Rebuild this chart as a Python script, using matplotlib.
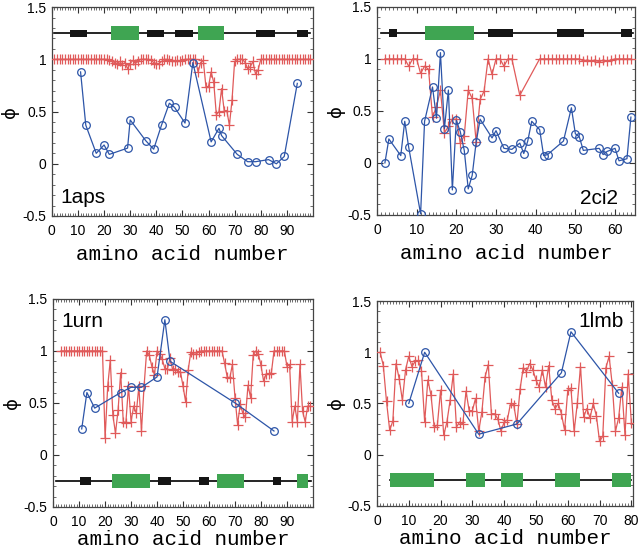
import numpy as np
import matplotlib
matplotlib.use("Agg")
import matplotlib.pyplot as plt
from matplotlib.ticker import MultipleLocator

# ---------------------------------------------------------------
# phi values per protein: blue = experiment (circles),
# red = simulation (crosses), read off the figure
# ---------------------------------------------------------------

# 1aps
APS_EXP_RES = [11, 13, 17, 20, 22, 29, 30, 36, 39, 42, 45, 47, 51, 54,
               61, 64, 65, 71, 75, 78, 83, 86, 89, 94]
APS_EXP_PHI = [0.88, 0.37, 0.10, 0.18, 0.09, 0.15, 0.42, 0.22, 0.14, 0.37,
               0.58, 0.54, 0.39, 0.97, 0.21, 0.34, 0.27, 0.09, 0.02, 0.02,
               0.04, 0.00, 0.07, 0.77]
APS_SIM_RES = np.arange(1, 100)
APS_SIM_PHI = [1.0, 1.0, 1.0, 1.0, 1.0, 1.0, 1.0, 1.0, 1.0, 1.0,
               1.0, 1.0, 1.0, 1.0, 1.0, 1.0, 1.0, 1.0, 1.0, 1.0,
               1.0, 0.99, 0.98, 0.97, 0.96, 0.98, 0.95, 0.97, 0.91, 0.96,
               0.99, 0.96, 0.98, 1.0, 1.0, 1.0, 1.0, 0.99, 0.97, 0.96,
               0.96, 0.98, 1.0, 1.0, 0.99, 0.98, 0.98, 0.99, 0.98, 0.99,
               1.0, 1.0, 1.0, 1.0, 1.0, 0.88, 0.97, 0.99, 0.74, 0.74,
               0.88, 0.78, 0.47, 0.50, 0.72, 0.51, 0.51, 0.37, 0.61, 0.98,
               1.0, 1.0, 1.0, 0.97, 0.91, 0.93, 0.98, 0.86, 0.90, 1.0,
               1.0, 1.0, 1.0, 1.0, 1.0, 1.0, 1.0, 1.0, 1.0, 1.0,
               1.0, 1.0, 1.0, 1.0, 1.0, 1.0, 1.0, 1.0, 1.0]
APS_CHAIN = (1, 99)
APS_STRANDS = [(7, 13.5), (36.5, 43), (47, 54), (78, 85.5), (94, 98)]
APS_HELICES = [(22.5, 33.5), (56, 66)]

# 2ci2
CI2_EXP_RES = [2, 3, 6, 7, 8, 11, 12, 14, 15, 16, 17, 18, 19, 20, 21, 22,
               23, 24, 25, 26, 29, 30, 32, 34, 36, 37, 38, 39, 41, 42, 43,
               47, 49, 50, 51, 52, 56, 57, 58, 60, 61, 63, 64]
CI2_EXP_PHI = [0.0, 0.23, 0.07, 0.40, 0.15, -0.49, 0.40, 0.73, 0.43, 1.06,
               0.33, 0.70, -0.26, 0.41, 0.30, 0.12, -0.25, -0.12, 0.20, 0.42,
               0.24, 0.31, 0.14, 0.13, 0.19, 0.09, 0.21, 0.40, 0.32, 0.07,
               0.08, 0.21, 0.53, 0.28, 0.25, 0.12, 0.14, 0.08, 0.11, 0.14,
               0.02, 0.04, 0.44]
CI2_SIM_RES = [2, 3, 4, 5, 6, 7, 8, 9, 10, 11, 12, 13, 14, 15, 16, 17, 18,
               19, 20, 21, 22, 23, 24, 25, 26, 27, 28, 29, 30, 31, 32, 33,
               34, 36, 41, 42, 43, 44, 45, 46, 47, 48, 49, 50, 51, 52, 53,
               54, 55, 56, 57, 58, 59, 60, 61, 62, 63, 64]
CI2_SIM_PHI = [1.0, 1.0, 1.0, 1.0, 1.0, 1.0, 0.93, 1.0, 1.0, 0.86, 0.93,
               0.90, 0.44, 0.54, 0.70, 0.29, 0.35, 0.42, 0.42, 0.19, 0.26,
               0.70, 0.62, 0.20, 0.61, 0.69, 1.0, 0.85, 1.0, 1.0, 0.93, 1.0,
               1.0, 0.65, 1.0, 1.0, 1.0, 1.0, 1.0, 1.0, 1.0, 1.0, 1.0, 1.0,
               1.0, 0.98, 0.99, 0.98, 0.99, 0.97, 0.99, 0.98, 0.99, 1.0, 1.0,
               1.0, 1.0, 1.0]
CI2_CHAIN = (1, 64.5)
CI2_STRANDS = [(3, 5), (28, 34.3), (45.3, 52.3), (61.6, 64.3)]
CI2_HELICES = [(12, 24.4)]

# 1urn
URN_EXP_RES = [11, 13, 16, 26, 30, 34, 40, 43, 45, 70, 85]
URN_EXP_PHI = [0.25, 0.60, 0.45, 0.60, 0.65, 0.65, 0.75, 1.30, 0.90, 0.50, 0.23]
URN_SIM_RES = np.arange(3, 100)
URN_SIM_PHI = [1.0, 1.0, 1.0, 1.0, 1.0, 1.0, 1.0, 1.0, 1.0, 1.0,
               1.0, 1.0, 1.0, 1.0, 1.0, 1.0, 1.0,
               0.16, 0.66, 0.91, 0.38, 0.21, 0.43, 0.79, 0.32, 0.31, 0.66,
               0.32, 0.47, 0.40, 0.66, 0.23, 0.66, 1.0, 0.96, 0.85, 0.77,
               1.0, 0.97, 0.92, 0.83, 0.83, 0.93, 0.82, 0.83, 0.80, 0.80,
               0.66, 0.51, 0.82, 0.99, 0.97, 0.97, 0.99, 1.0, 1.0, 1.0,
               1.0, 1.0, 1.0, 1.0, 1.0, 1.0, 0.88, 0.75, 0.74, 0.87,
               0.55, 0.29, 0.49, 0.40, 0.36, 0.67, 0.55, 0.96, 1.0, 0.97,
               0.86, 0.71, 0.78, 0.78, 0.79, 1.0, 1.0, 1.0, 1.0, 1.0,
               0.85, 0.87, 0.32, 0.47, 0.32, 0.87, 0.42, 0.32, 0.47, 0.47]
URN_CHAIN = (1, 99.4)
URN_STRANDS = [(10.3, 14.4), (40.4, 45.5), (56, 60), (84.6, 87.8)]
URN_HELICES = [(22.7, 37.2), (63.1, 73.3), (93.8, 98)]

# 1lmb
LMB_EXP_RES = [10, 15, 32, 44, 58, 61, 76]
LMB_EXP_PHI = [0.50, 1.00, 0.20, 0.30, 0.80, 1.20, 0.60]
LMB_SIM_RES = np.arange(1, 81)
LMB_SIM_PHI = [1.0, 0.87, 0.52, 0.24, 0.33, 0.89, 0.74, 0.53, 0.83, 0.96,
               0.86, 0.91, 0.92, 0.82, 0.32, 0.73, 0.58, 0.27, 0.29, 0.63,
               0.19, 0.32, 0.53, 0.79, 0.27, 0.32, 0.30, 0.62, 0.43, 0.43,
               0.55, 0.23, 0.42, 0.76, 0.88, 0.40, 0.40, 0.35, 0.23, 0.32,
               0.34, 0.50, 0.49, 0.30, 0.64, 0.85, 0.81, 0.89, 0.83, 0.73,
               0.66, 0.83, 0.66, 0.87, 0.53, 0.45, 0.50, 0.40, 0.24, 0.63,
               0.65, 0.23, 0.50, 0.86, 0.37, 0.45, 0.36, 0.50, 0.38, 0.13,
               0.18, 0.85, 0.96, 0.68, 0.23, 0.36, 0.66, 0.19, 0.79, 0.31]
LMB_CHAIN = (4, 80)
LMB_STRANDS = []
LMB_HELICES = [(4, 18), (28, 34), (39, 46), (56, 64), (74, 80)]

Y_TICKS = [-0.5, 0, 0.5, 1, 1.5]
Y_TICK_LABELS = ["-0.5", "0", "0.5", "1", "1.5"]

BLUE = "#2d55a8"
RED = "#e05a5a"
GREEN = "#3fa552"
SANS = "Liberation Sans"


def draw_panel(ax, name, exp_x, exp_y, sim_x, sim_y, chain, strands, helices,
               ss_y, xmax, xticks, name_pos, name_ha, xlabel_pad):
    # secondary structure bar
    ax.plot(chain, [ss_y, ss_y], color="black", lw=1.2, zorder=2)
    for a, b in strands:
        ax.broken_barh([(a, b - a)], (ss_y - 0.035, 0.07),
                       facecolor="#151515", zorder=3)
    for a, b in helices:
        ax.broken_barh([(a, b - a)], (ss_y - 0.068, 0.136),
                       facecolor=GREEN, zorder=3)

    ax.plot(sim_x, sim_y, color=RED, lw=0.9, marker="+", ms=6.5, mew=0.9,
            zorder=4)
    ax.plot(exp_x, exp_y, color=BLUE, lw=0.9, marker="o", ms=5.5,
            mfc="none", mew=0.9, zorder=5)

    ax.set_xlim(0, xmax)
    ax.set_ylim(-0.5, 1.5)
    ax.set_xticks(xticks)
    ax.set_xticklabels([str(t) for t in xticks], fontfamily=SANS, fontsize=10)
    ax.set_yticks(Y_TICKS)
    ax.set_yticklabels(Y_TICK_LABELS, fontfamily=SANS, fontsize=10)
    ax.xaxis.set_minor_locator(MultipleLocator(1))
    ax.yaxis.set_minor_locator(MultipleLocator(0.1))
    ax.tick_params(which="both", direction="in", top=True, right=True,
                   color="#333333")
    ax.tick_params(which="major", length=4.5, width=0.8)
    ax.tick_params(which="minor", length=2.0, width=0.5)
    ax.tick_params(axis="x", pad=6)
    ax.tick_params(axis="y", pad=4)
    for sp in ax.spines.values():
        sp.set_color("#444444")
        sp.set_linewidth(0.9)

    ax.set_xlabel("amino acid number", fontfamily="Liberation Mono",
                  fontsize=15, labelpad=xlabel_pad)
    ax.set_ylabel("\u03d5", fontfamily="DejaVu Sans", fontsize=13,
                  va="center", ha="center")
    ax.yaxis.set_label_coords(-0.16, 0.5)

    ax.text(name_pos[0], name_pos[1], name, transform=ax.transAxes,
            fontfamily=SANS, fontsize=15, ha=name_ha, va="baseline",
            zorder=6)


def main():
    fig = plt.figure(figsize=(6.4, 5.51), dpi=100)

    ax1 = fig.add_axes([0.081, 0.608, 0.408, 0.379])
    ax2 = fig.add_axes([0.589, 0.610, 0.403, 0.3775])
    ax3 = fig.add_axes([0.083, 0.080, 0.406, 0.3775])
    ax4 = fig.add_axes([0.589, 0.0817, 0.400, 0.372])

    draw_panel(ax1, "1aps", APS_EXP_RES, APS_EXP_PHI, APS_SIM_RES,
               APS_SIM_PHI, APS_CHAIN, APS_STRANDS, APS_HELICES, 1.25,
               100, list(range(0, 91, 10)), (0.034, 0.062), "left", 5)
    draw_panel(ax2, "2ci2", CI2_EXP_RES, CI2_EXP_PHI, CI2_SIM_RES,
               CI2_SIM_PHI, CI2_CHAIN, CI2_STRANDS, CI2_HELICES, 1.25,
               65, list(range(0, 61, 10)), (0.934, 0.053), "right", 5)
    draw_panel(ax3, "1urn", URN_EXP_RES, URN_EXP_PHI, URN_SIM_RES,
               URN_SIM_PHI, URN_CHAIN, URN_STRANDS, URN_HELICES, -0.25,
               100, list(range(0, 91, 10)), (0.031, 0.867), "left", 0.5)
    draw_panel(ax4, "1lmb", LMB_EXP_RES, LMB_EXP_PHI, LMB_SIM_RES,
               LMB_SIM_PHI, LMB_CHAIN, LMB_STRANDS, LMB_HELICES, -0.25,
               80.5, list(range(0, 81, 10)), (0.962, 0.872), "right", 0.5)

    fig.savefig("out.png", dpi=100)
    plt.close(fig)


if __name__ == "__main__":
    main()
